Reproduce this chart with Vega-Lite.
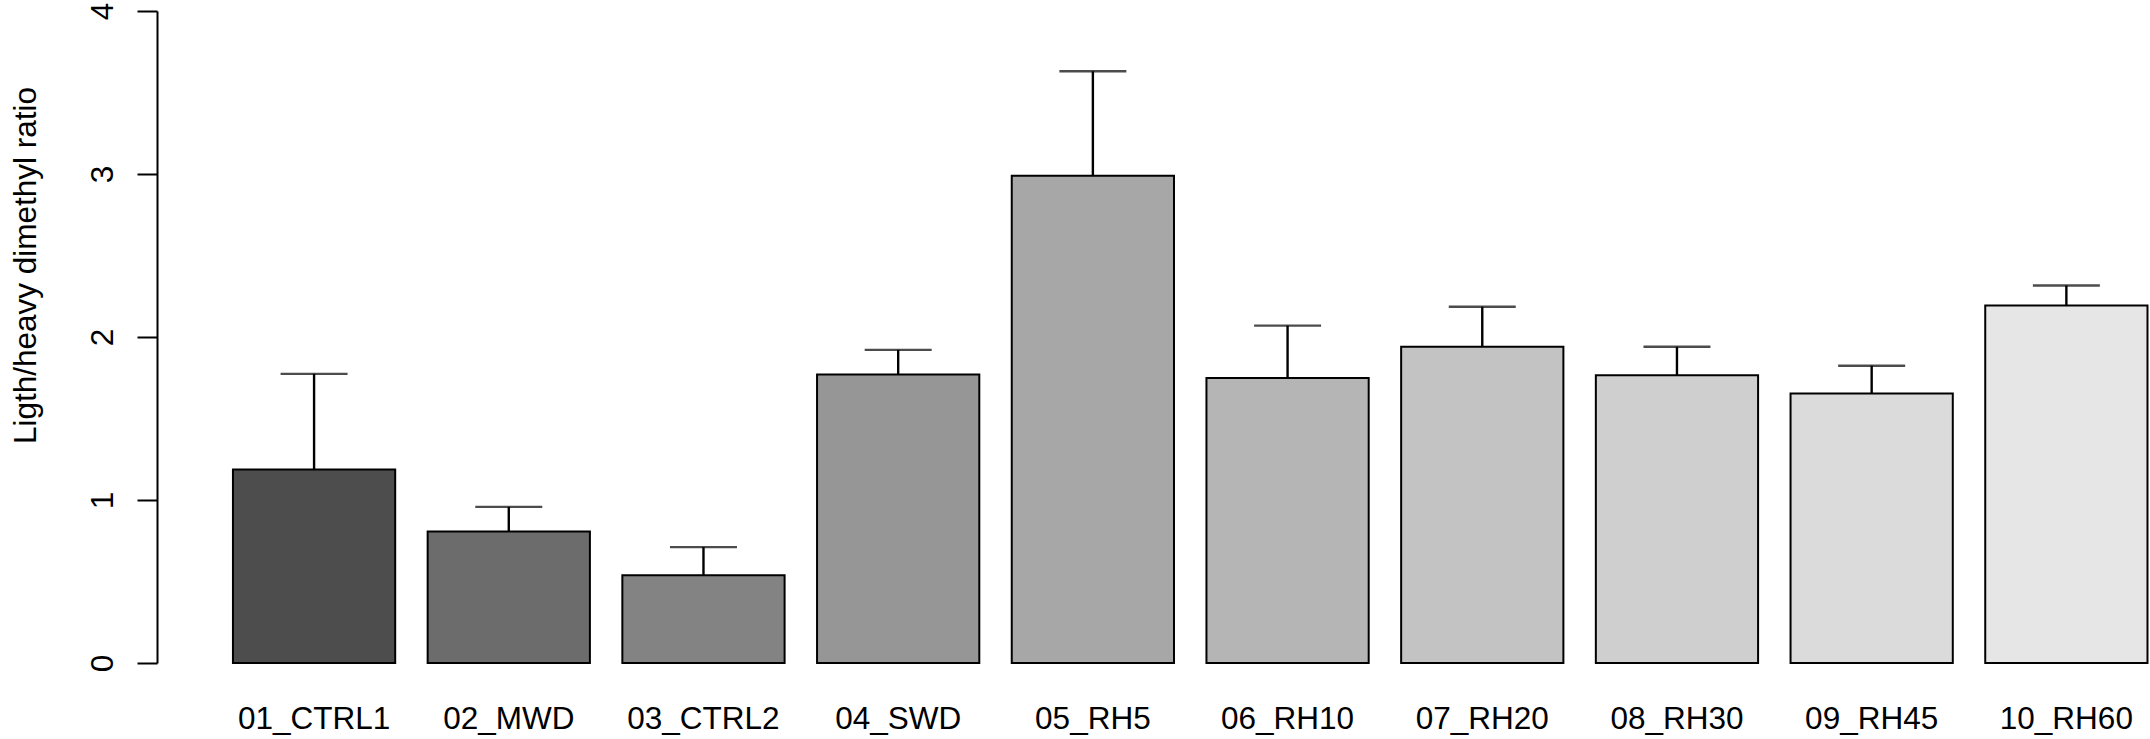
{
  "$schema": "https://vega.github.io/schema/vega-lite/v6.json",
  "width": 1993,
  "height": 652,
  "autosize": {"type": "none"},
  "padding": {"left": 157, "top": 11, "right": 0, "bottom": 76},
  "background": "white",
  "config": {
    "view": {"stroke": null},
    "font": "Liberation Sans"
  },
  "data": {
    "values": [
      {"group": "01_CTRL1", "ratio": 1.187, "upper": 1.774},
      {"group": "02_MWD", "ratio": 0.807, "upper": 0.958},
      {"group": "03_CTRL2", "ratio": 0.538, "upper": 0.711},
      {"group": "04_SWD", "ratio": 1.77, "upper": 1.921},
      {"group": "05_RH5", "ratio": 2.99, "upper": 3.63},
      {"group": "06_RH10", "ratio": 1.748, "upper": 2.07},
      {"group": "07_RH20", "ratio": 1.94, "upper": 2.186},
      {"group": "08_RH30", "ratio": 1.765, "upper": 1.94},
      {"group": "09_RH45", "ratio": 1.654, "upper": 1.824},
      {"group": "10_RH60", "ratio": 2.193, "upper": 2.316}
    ]
  },
  "encoding": {
    "x": {
      "field": "group",
      "type": "nominal",
      "sort": null,
      "scale": {"paddingInner": 0.16667, "paddingOuter": 0.2015, "align": 0.968},
      "axis": {
        "title": null,
        "domain": false,
        "ticks": false,
        "tickSize": 0,
        "labelAngle": 0,
        "labelFontSize": 31.5,
        "labelColor": "black",
        "labelBaseline": "alphabetic",
        "labelPadding": 65.5,
        "labelFont": "Liberation Sans"
      }
    }
  },
  "layer": [
    {
      "mark": {"type": "bar", "stroke": "black", "strokeWidth": 2, "opacity": 1},
      "encoding": {
        "y": {
          "field": "ratio",
          "type": "quantitative",
          "scale": {"domain": [0, 4], "nice": false},
          "axis": {
            "title": "Ligth/heavy dimethyl ratio",
            "values": [0, 1, 2, 3, 4],
            "format": "d",
            "grid": false,
            "domainColor": "black",
            "domainWidth": 2,
            "tickColor": "black",
            "tickWidth": 2,
            "tickSize": 20,
            "labelAngle": -90,
            "labelAlign": "center",
            "labelBaseline": "alphabetic",
            "labelPadding": 25,
            "labelFontSize": 31.5,
            "labelColor": "black",
            "labelFlush": false,
            "labelOverlap": false,
            "labelFont": "Liberation Sans",
            "titleFont": "Liberation Sans",
            "titleFontSize": 31.5,
            "titleFontWeight": "normal",
            "titleColor": "black",
            "titleAngle": -90,
            "titleAlign": "center",
            "titleBaseline": "alphabetic",
            "titleX": -122,
            "titleY": 254
          }
        },
        "color": {
          "field": "group",
          "type": "nominal",
          "legend": null,
          "scale": {
            "domain": ["01_CTRL1", "02_MWD", "03_CTRL2", "04_SWD", "05_RH5", "06_RH10", "07_RH20", "08_RH30", "09_RH45", "10_RH60"],
            "range": ["#4D4D4D", "#6C6C6C", "#838383", "#969696", "#A7A7A7", "#B5B5B5", "#C3C3C3", "#CFCFCF", "#DBDBDB", "#E6E6E6"]
          }
        }
      }
    },
    {
      "mark": {"type": "rule", "color": "black", "strokeWidth": 2.4},
      "encoding": {
        "y": {"field": "ratio", "type": "quantitative"},
        "y2": {"field": "upper"}
      }
    },
    {
      "mark": {"type": "tick", "color": "black", "thickness": 2.4, "size": 67, "orient": "horizontal"},
      "encoding": {
        "y": {"field": "upper", "type": "quantitative"}
      }
    }
  ]
}
